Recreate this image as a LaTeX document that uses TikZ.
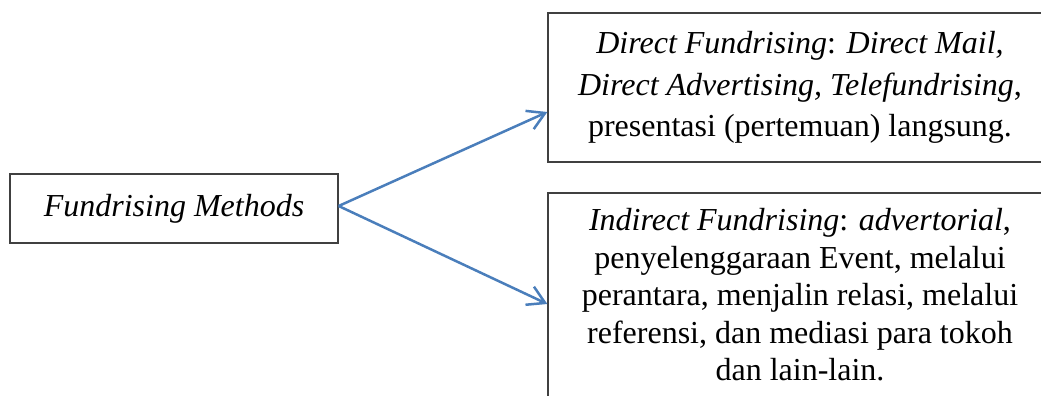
\documentclass[tikz,border=0pt]{standalone}
\usepackage{fontspec}
\setmainfont{Liberation Serif}
\usetikzlibrary{arrows.meta}
\definecolor{boxline}{RGB}{64,64,64}
\definecolor{arrowblue}{RGB}{74,126,187}
\tikzset{
  box/.style={draw=boxline, line width=1.3pt, rectangle, inner sep=0pt, align=center,
    font=\fontsize{32}{37.5}\selectfont},
  conn/.style={draw=arrowblue, line width=2.5pt, -{Straight Barb[length=17pt,width=20pt]}}
}
\begin{document}
\begin{tikzpicture}[x=1pt,y=1pt]
\useasboundingbox (0,0) rectangle (1041,-396);
\clip (0,0) rectangle (1041,-396);
\node[box, minimum width=328pt, minimum height=69pt] (L) at (174,-208.5) {\textit{Fundrising Methods}};
\node[box, minimum width=504pt, minimum height=149pt,
      font=\fontsize{32}{41.7}\selectfont] (T) at (800,-87.5)
  {\textit{Direct Fundrising}: \textit{Direct Mail,}\\
   \textit{Direct Advertising, Telefundrising},\\
   presentasi (pertemuan) langsung.};
\node[box, minimum width=504pt, minimum height=204pt] (B) at (800,-295)
  {\textit{Indirect Fundrising}: \textit{advertorial},\\
   penyelenggaraan Event, melalui\\
   perantara, menjalin relasi, melalui\\
   referensi, dan mediasi para tokoh\\
   dan lain-lain.};
\draw[conn] ([yshift=2.5pt]L.east) -- ([yshift=-24.5pt]T.west);
\draw[conn] ([yshift=2.5pt]L.east) -- ([yshift=-9pt]B.west);
\end{tikzpicture}
\end{document}
